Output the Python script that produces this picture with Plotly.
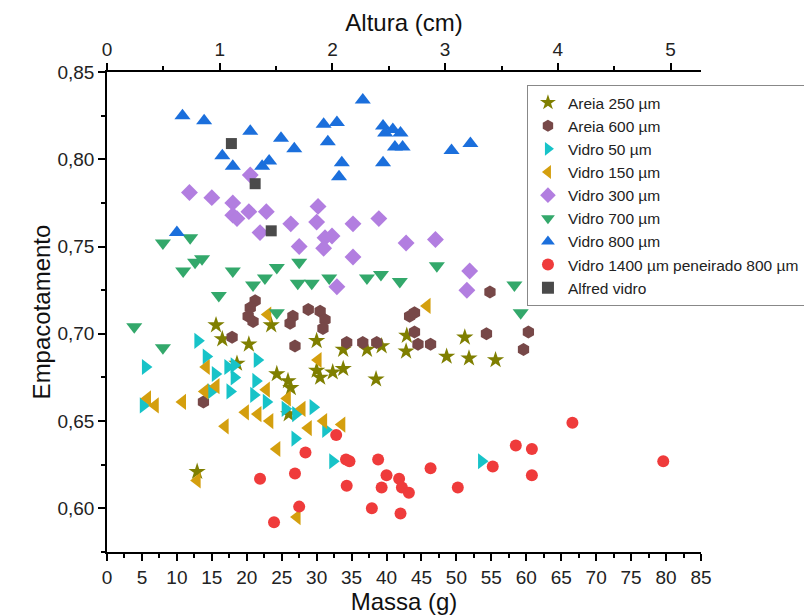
import plotly.graph_objects as go

# ---- data (Massa g, Empacotamento) ----
areia250_x = [15.6, 16.5, 20.3, 23.5, 30.0, 33.8, 18.6, 24.3, 25.9, 26.3, 30.0, 30.5, 32.3, 33.8, 26.0, 12.9, 42.9, 37.2, 39.3, 42.8, 51.2, 48.6, 51.8, 55.6, 38.5]
areia250_y = [0.705, 0.697, 0.694, 0.705, 0.696, 0.691, 0.683, 0.677, 0.673, 0.669, 0.679, 0.675, 0.678, 0.680, 0.654, 0.621, 0.699, 0.691, 0.693, 0.690, 0.698, 0.687, 0.686, 0.685, 0.674]

areia600_x = [21.2, 20.5, 20.2, 20.9, 17.9, 26.6, 26.2, 28.8, 30.5, 31.2, 30.9, 26.9, 34.3, 13.8, 54.8, 43.3, 44.0, 44.0, 44.5, 46.3, 36.6, 38.6, 54.3, 60.3, 59.6]
areia600_y = [0.719, 0.715, 0.710, 0.707, 0.698, 0.710, 0.706, 0.714, 0.713, 0.708, 0.703, 0.693, 0.695, 0.661, 0.724, 0.710, 0.712, 0.701, 0.694, 0.694, 0.695, 0.695, 0.700, 0.701, 0.691]

vidro50_x = [5.5, 5.2, 13.0, 14.2, 15.5, 17.3, 18.2, 18.2, 17.6, 14.9, 21.5, 21.3, 21.0, 22.8, 25.5, 27.0, 29.5, 26.9, 31.3, 32.3, 53.6]
vidro50_y = [0.681, 0.659, 0.696, 0.687, 0.677, 0.681, 0.682, 0.675, 0.667, 0.667, 0.685, 0.673, 0.665, 0.661, 0.657, 0.654, 0.658, 0.640, 0.645, 0.627, 0.627]

vidro150_x = [23.0, 14.2, 15.6, 14.0, 5.8, 6.9, 10.8, 22.8, 25.8, 27.9, 30.2, 19.8, 21.6, 23.3, 31.0, 33.6, 16.9, 24.3, 28.8, 12.9, 27.2, 45.8]
vidro150_y = [0.711, 0.681, 0.670, 0.667, 0.663, 0.659, 0.661, 0.668, 0.663, 0.657, 0.685, 0.655, 0.654, 0.650, 0.650, 0.648, 0.647, 0.634, 0.646, 0.616, 0.595, 0.716]

vidro300_x = [11.8, 15.0, 18.0, 18.0, 18.6, 20.3, 22.8, 20.5, 21.9, 26.3, 27.5, 30.0, 30.2, 31.2, 32.2, 31.0, 35.2, 38.9, 35.2, 42.8, 47.0, 51.9, 51.5, 32.9]
vidro300_y = [0.781, 0.778, 0.775, 0.768, 0.766, 0.770, 0.770, 0.791, 0.758, 0.763, 0.750, 0.764, 0.773, 0.755, 0.756, 0.749, 0.763, 0.766, 0.744, 0.752, 0.754, 0.736, 0.725, 0.727]

vidro700_x = [8.0, 11.9, 12.6, 13.6, 10.9, 18.0, 22.6, 20.9, 24.3, 27.5, 27.3, 29.3, 31.8, 16.0, 24.3, 3.9, 8.0, 37.2, 39.2, 41.9, 47.2, 58.3, 63.8, 59.2]
vidro700_y = [0.752, 0.755, 0.741, 0.743, 0.736, 0.736, 0.732, 0.728, 0.738, 0.741, 0.729, 0.729, 0.732, 0.722, 0.712, 0.704, 0.692, 0.732, 0.734, 0.730, 0.739, 0.728, 0.723, 0.712]

vidro800_x = [10.8, 13.9, 20.5, 24.9, 26.8, 16.5, 18.0, 22.2, 23.2, 31.0, 32.9, 31.6, 33.6, 33.2, 10.0, 36.6, 39.5, 39.8, 40.9, 42.0, 41.2, 42.3, 39.5, 49.3, 52.0]
vidro800_y = [0.825, 0.822, 0.816, 0.812, 0.806, 0.802, 0.796, 0.796, 0.799, 0.820, 0.821, 0.810, 0.798, 0.790, 0.758, 0.834, 0.819, 0.815, 0.817, 0.815, 0.807, 0.807, 0.798, 0.805, 0.809]

vidro1400_x = [32.8, 28.4, 34.2, 34.7, 21.9, 26.9, 34.3, 27.5, 23.9, 38.8, 40.0, 41.8, 42.2, 43.2, 39.3, 37.9, 42.0, 46.3, 50.2, 55.2, 58.5, 60.8, 60.8, 66.6, 79.6]
vidro1400_y = [0.642, 0.632, 0.628, 0.627, 0.617, 0.620, 0.613, 0.601, 0.592, 0.628, 0.619, 0.617, 0.612, 0.609, 0.612, 0.600, 0.597, 0.623, 0.612, 0.624, 0.636, 0.634, 0.619, 0.649, 0.627]

alfred_x = [17.8, 21.2, 23.5]
alfred_y = [0.809, 0.786, 0.759]

series = [
    ("Areia 250 µm", areia250_x, areia250_y, "star", "#7f7f00", 13),
    ("Areia 600 µm", areia600_x, areia600_y, "hexagon", "#774848", 13),
    ("Vidro 50 µm", vidro50_x, vidro50_y, "triangle-right", "#17c3c8", 14),
    ("Vidro 150 µm", vidro150_x, vidro150_y, "triangle-left", "#d49f0e", 14),
    ("Vidro 300 µm", vidro300_x, vidro300_y, "diamond", "#b27ee0", 13),
    ("Vidro 700 µm", vidro700_x, vidro700_y, "triangle-down", "#33a86b", 14),
    ("Vidro 800 µm", vidro800_x, vidro800_y, "triangle-up", "#1b6fdc", 14),
    ("Vidro 1400 µm peneirado 800 µm", vidro1400_x, vidro1400_y, "circle", "#ef3b3b", 12),
    ("Alfred vidro", alfred_x, alfred_y, "square", "#4a4a4a", 11),
]

FONT = "Liberation Sans, Arial, sans-serif"

fig = go.Figure()
for name, xs, ys, sym, col, sz in series:
    fig.add_trace(go.Scatter(
        x=xs, y=ys, mode="markers", name=name,
        marker=dict(symbol=sym, color=col, size=sz, line=dict(width=0)),
    ))

# empty trace to register the top axis
fig.add_trace(go.Scatter(x=[], y=[], xaxis="x2", showlegend=False, hoverinfo="skip"))

axis_common = dict(
    showline=True, linecolor="black", linewidth=1.5, ticks="outside",
    ticklen=7, tickwidth=1.5, tickcolor="black", showgrid=False, zeroline=False,
    automargin=False,
    tickfont=dict(family=FONT, size=19, color="#222"),
    title_font=dict(family=FONT, size=24, color="#111"),
)
minor_common = dict(ticklen=4, tickwidth=1.5, tickcolor="black", ticks="outside")

# the page body adds an 8px offset, so margins are shifted accordingly
fig.update_layout(
    width=812, height=616,
    paper_bgcolor="white", plot_bgcolor="white",
    separators=",.",
    margin=dict(l=99, r=119, t=64, b=72),
    font=dict(family=FONT, color="#222"),
    xaxis=dict(range=[0, 85], dtick=5, title=dict(text="Massa (g)", standoff=3),
               minor=dict(dtick=2.5, **minor_common), **axis_common),
    xaxis2=dict(range=[0, 5.27], dtick=1, overlaying="x", side="top", anchor="y",
                title=dict(text="Altura (cm)", standoff=0),
                minor=dict(dtick=0.5, **minor_common), **axis_common),
    yaxis=dict(range=[0.575, 0.85], dtick=0.05, tickformat=".2f",
               title=dict(text="Empacotamento", standoff=0),
               minor=dict(dtick=0.025, **minor_common), **axis_common),
    legend=dict(x=0.707, y=0.973, xanchor="left", yanchor="top",
                bordercolor="#888", borderwidth=1, bgcolor="white",
                font=dict(family=FONT, size=15.5, color="#222"),
                tracegroupgap=0, itemsizing="constant"),
    showlegend=True,
)

fig.write_html("out.html")
